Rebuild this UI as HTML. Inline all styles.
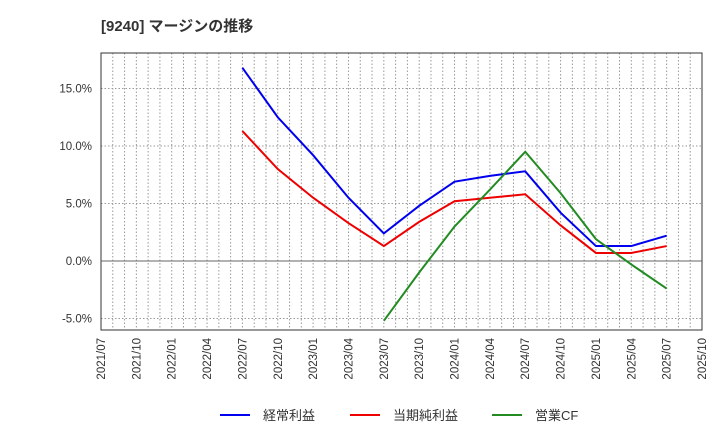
<!DOCTYPE html>
<html><head><meta charset="utf-8"><style>body{margin:0;background:#fff}svg{display:block}</style></head><body>
<svg width="720" height="440" xmlns="http://www.w3.org/2000/svg" font-family="Liberation Sans, Noto Sans CJK JP, sans-serif">
<text x="101" y="31" font-size="15" font-weight="bold" fill="#333">[9240]  マージンの推移</text>
<g id="grid" stroke="#999" stroke-dasharray="1.5,2" stroke-width="1"></g>
<rect x="101" y="53" width="601" height="277" fill="none" stroke="#333" stroke-width="1"/>
<line x1="101" y1="261" x2="702" y2="261" stroke="#666" stroke-width="1"/>
<g id="yl" font-size="11.5" fill="#333" text-anchor="end"></g>
<g id="xl" font-size="11.5" fill="#333"></g>
<polyline id="b" fill="none" stroke="#0000ee" stroke-width="2"/>
<polyline id="r" fill="none" stroke="#ee0000" stroke-width="2"/>
<polyline id="g" fill="none" stroke="#228b22" stroke-width="2"/>
<g font-size="13" fill="#333">
<line x1="220" y1="415" x2="250" y2="415" stroke="#0000ee" stroke-width="2"/><text x="263" y="420">経常利益</text>
<line x1="350" y1="415" x2="380" y2="415" stroke="#ee0000" stroke-width="2"/><text x="393" y="420">当期純利益</text>
<line x1="492" y1="415" x2="522" y2="415" stroke="#228b22" stroke-width="2"/><text x="535" y="420">営業CF</text>
</g>
<script>
const ns="http://www.w3.org/2000/svg",L=101,M=601/51,Y=v=>261-v*11.5;
const g=document.getElementById('grid');
for(let m=1;m<51;m++){const l=document.createElementNS(ns,'line');const x=L+m*M;l.setAttribute('x1',x);l.setAttribute('x2',x);l.setAttribute('y1',53);l.setAttribute('y2',330);g.appendChild(l);}
const yl=document.getElementById('yl');
[15,10,5,0,-5].forEach(v=>{if(v!=0){const l=document.createElementNS(ns,'line');l.setAttribute('x1',101);l.setAttribute('x2',702);l.setAttribute('y1',Y(v));l.setAttribute('y2',Y(v));g.appendChild(l);}
const t=document.createElementNS(ns,'text');t.setAttribute('x',92);t.setAttribute('y',Y(v)+4);t.textContent=v.toFixed(1)+'%';yl.appendChild(t);});
const xl=document.getElementById('xl');
for(let i=0;i<18;i++){const m=i*3,yr=2021+Math.floor((6+m)/12),mo=(6+m)%12+1;const x=L+m*M;const t=document.createElementNS(ns,'text');t.setAttribute('transform',`translate(${x+4},${338}) rotate(-90)`);t.setAttribute('text-anchor','end');t.textContent=yr+'/'+String(mo).padStart(2,'0');xl.appendChild(t);}
function pl(id,s,d){document.getElementById(id).setAttribute('points',d.map((v,i)=>(L+(s+i*3)*M)+','+Y(v)).join(' '));}
pl('b',12,[16.8,12.5,9.2,5.5,2.4,4.8,6.9,7.4,7.8,4.2,1.3,1.3,2.2]);
pl('r',12,[11.3,8.0,5.5,3.3,1.3,3.4,5.2,5.5,5.8,3.1,0.7,0.7,1.3]);
pl('g',24,[-5.2,-1.0,3.0,6.2,9.5,5.9,1.9,-0.3,-2.4]);
</script>
</svg>
</body></html>
